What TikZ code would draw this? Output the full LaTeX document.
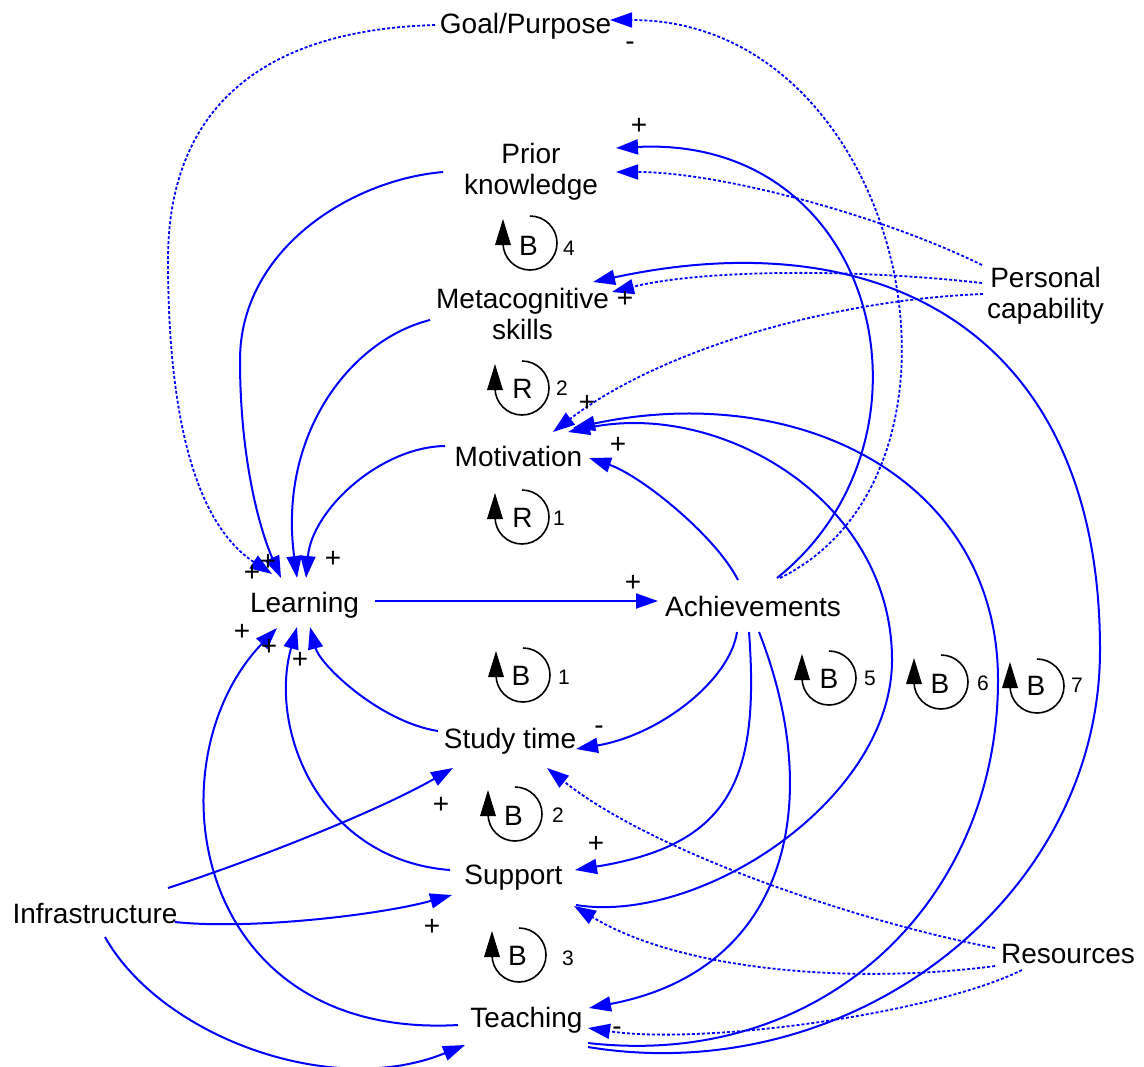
\documentclass[tikz,border=0pt]{standalone}
\usepackage{fontspec}
\setmainfont{Liberation Sans}
\usetikzlibrary{arrows.meta}
\tikzset{
  lab/.style={font=\fontsize{14}{15.5}\selectfont, inner sep=0pt, align=center, text=black},
  sgn/.style={font=\fontsize{14}{15.5}\selectfont, inner sep=0pt, anchor=base, text=black},
  lnum/.style={font=\fontsize{10.5}{12}\selectfont, inner sep=0pt, anchor=base, text=black},
  llet/.style={font=\fontsize{14}{15.5}\selectfont, inner sep=0pt, anchor=base, text=black},
  link/.style={draw=blue, line width=1pt, -{Triangle[length=11pt,width=7.5pt]}},
  dlink/.style={link, line width=0.9pt, dash pattern=on 1.5pt off 1pt},
  loopline/.style={draw=black, line width=0.8pt},
}
\newcommand\loopsym[2]{%
  \draw[loopline] (#1,#2-27) arc[start angle=-90,end angle=180,radius=27];
  \fill[black] (#1-35,#2+2) -- (#1-19,#2+2) -- (#1-27,#2-24) -- cycle;}
\begin{document}
\begin{tikzpicture}[x=0.5pt,y=-0.5pt]
\fill[white] (0,0) rectangle (1144,1066);
\useasboundingbox (0,0) rectangle (1144,1066);

% variables
\node[lab, anchor=base] (goal) at (525.5,33) {Goal/Purpose};
\node[lab] (pk) at (531,171.5) {Prior\\knowledge};
\node[lab] (meta) at (522.5,313.5) {Metacognitive\\skills};
\node[lab, anchor=base] (mot) at (518.5,466) {Motivation};
\node[lab, anchor=base] (learn) at (304.5,612) {Learning};
\node[lab, anchor=base] (ach) at (753,616) {Achievements};
\node[lab, anchor=base] (study) at (510,748) {Study time};
\node[lab, anchor=base] (supp) at (513.5,884) {Support};
\node[lab, anchor=base] (infra) at (95,923) {Infrastructure};
\node[lab, anchor=base] (teach) at (526.5,1027) {Teaching};
\node[lab] (pers) at (1045.5,296) {Personal\\capability};
\node[lab, anchor=base] (res) at (1068,963) {Resources};

% links
\draw[link] ([shift={(70.5,-11)}]learn.base) -- ([shift={(-95,-15)}]ach.base);
\draw[link] ([shift={(-15,-36)}]ach.base) .. controls (715,535) and (640,475) .. ([shift={(70.5,-8)}]mot.base);
\draw[link] ([shift={(-73.5,-20)}]mot.base) .. controls (380,447) and (312,510) .. ([shift={(1.5,-34)}]learn.base);
\draw[link] ([shift={(-16,16)}]ach.base) .. controls (730,680) and (660,735) .. ([shift={(66,1)}]study.base);
\draw[link] ([shift={(-72,-17)}]study.base) .. controls (380,722) and (320,665) .. ([shift={(5.5,15)}]learn.base);
\draw[link] ([shift={(-63.5,-14)}]supp.base) .. controls (320,860) and (268,730) .. ([shift={(-7.5,15)}]learn.base);
\draw[link] ([shift={(-68.5,-2)}]teach.base) .. controls (190,1040) and (150,760) .. ([shift={(-27.5,16)}]learn.base);
\draw[link] ([shift={(-4,16)}]ach.base) .. controls (760,780) and (730,845) .. ([shift={(61.5,-14)}]supp.base);
\draw[link] ([shift={(6,16)}]ach.base) .. controls (825,800) and (790,970) .. ([shift={(62.5,-19)}]teach.base);
\draw[link] ([shift={(24,-38)}]ach.base) .. controls (950,440) and (880,135) .. ([shift={(85,-23.5)}]pk.center);
\draw[dlink] ([shift={(27,-38)}]ach.base) .. controls (1000,470) and (905,20) .. ([shift={(84.5,-13)}]goal.base);
\draw[dlink] ([shift={(-90.5,-8)}]goal.base) .. controls (260,30) and (168,110) .. (168,260) .. controls (168,400) and (190,520) .. ([shift={(-32.5,-38)}]learn.base);
\draw[link] ([shift={(-88,0.5)}]pk.center) .. controls (350,180) and (240,250) .. (240,360) .. controls (240,460) and (260,530) .. ([shift={(-23.5,-34)}]learn.base);
\draw[link] ([shift={(-92.5,6.5)}]meta.center) .. controls (350,340) and (278,435) .. ([shift={(-7.5,-34)}]learn.base);
\draw[dlink] ([shift={(-63.5,-31)}]pers.center) .. controls (880,215) and (720,172) .. ([shift={(85,0.5)}]pk.center);
\draw[dlink] ([shift={(-63.5,-13)}]pers.center) .. controls (850,268) and (700,270) .. ([shift={(89.5,-21.5)}]meta.center);
\draw[dlink] ([shift={(-62.5,-2)}]pers.center) .. controls (830,300) and (660,350) .. ([shift={(34.5,-34)}]mot.base);
\draw[link] ([shift={(62.5,21)}]supp.base) .. controls (700,925) and (892,800) .. (892,660) .. controls (892,500) and (720,400) .. ([shift={(49.5,-34)}]mot.base);
\draw[link] ([shift={(61.5,16)}]teach.base) .. controls (825,1070) and (998,900) .. (998,680) .. controls (998,480) and (800,380) .. ([shift={(54.5,-38)}]mot.base);
\draw[link] ([shift={(61.5,20)}]teach.base) .. controls (850,1090) and (1100,900) .. (1100,650) .. controls (1100,330) and (880,220) .. ([shift={(70.5,-31.5)}]meta.center);
\draw[dlink] ([shift={(-73,-15)}]res.base) .. controls (850,920) and (650,850) .. ([shift={(37,20)}]study.base);
\draw[dlink] ([shift={(-73,3)}]res.base) .. controls (850,985) and (680,970) .. ([shift={(60.5,22)}]supp.base);
\draw[dlink] ([shift={(-46,7)}]res.base) .. controls (930,1015) and (700,1045) .. ([shift={(61.5,1)}]teach.base);
\draw[link] ([shift={(73,-35)}]infra.base) .. controls (260,858) and (380,810) .. ([shift={(-57,20)}]study.base);
\draw[link] ([shift={(80,-1)}]infra.base) .. controls (250,930) and (380,915) .. ([shift={(-61.5,11)}]supp.base);
\draw[link] ([shift={(10,14)}]infra.base) .. controls (160,1035) and (330,1100) .. ([shift={(-61.5,18)}]teach.base);

% polarity signs
\node[sgn] (s1) at (630,50) {-};
\node[sgn] (s2) at (639,134.5) {+};
\node[sgn] (s3) at (625,307.5) {+};
\node[sgn] (s4) at (587,411.5) {+};
\node[sgn] (s5) at (618,453.5) {+};
\node[sgn] (s6) at (252,581.5) {+};
\node[sgn] (s7) at (268,570.5) {+};
\node[sgn] (s8) at (333,567.5) {+};
\node[sgn] (s9) at (633,591.5) {+};
\node[sgn] (s10) at (242,640.5) {+};
\node[sgn] (s11) at (269,655.5) {+};
\node[sgn] (s12) at (300,668.5) {+};
\node[sgn] (s13) at (599,734) {-};
\node[sgn] (s14) at (441,813.5) {+};
\node[sgn] (s15) at (596,852.5) {+};
\node[sgn] (s16) at (432,935.5) {+};
\node[sgn] (s17) at (617,1035) {-};

% loop markers
\loopsym{530}{243}
\node[llet] (lB4) at (528.5,255) {B}; \node[lnum] (nB4) at (569,255) {4};
\loopsym{522}{388}
\node[llet] (lR2) at (522.5,398) {R}; \node[lnum] (nR2) at (562,395) {2};
\loopsym{522}{517}
\node[llet] (lR1) at (522.5,527) {R}; \node[lnum] (nR1) at (559,525) {1};
\loopsym{523}{675}
\node[llet] (lB1) at (521,685) {B}; \node[lnum] (nB1) at (564,684) {1};
\loopsym{515}{814}
\node[llet] (lB2) at (513.5,825) {B}; \node[lnum] (nB2) at (558,822) {2};
\loopsym{519}{955}
\node[llet] (lB3) at (517.5,965) {B}; \node[lnum] (nB3) at (568,965) {3};
\loopsym{829}{678}
\node[llet] (lB5) at (829,688) {B}; \node[lnum] (nB5) at (870,685) {5};
\loopsym{941}{682}
\node[llet] (lB6) at (940,693) {B}; \node[lnum] (nB6) at (983,690) {6};
\loopsym{1037}{686}
\node[llet] (lB7) at (1036,695) {B}; \node[lnum] (nB7) at (1077,692) {7};
\end{tikzpicture}
\end{document}
